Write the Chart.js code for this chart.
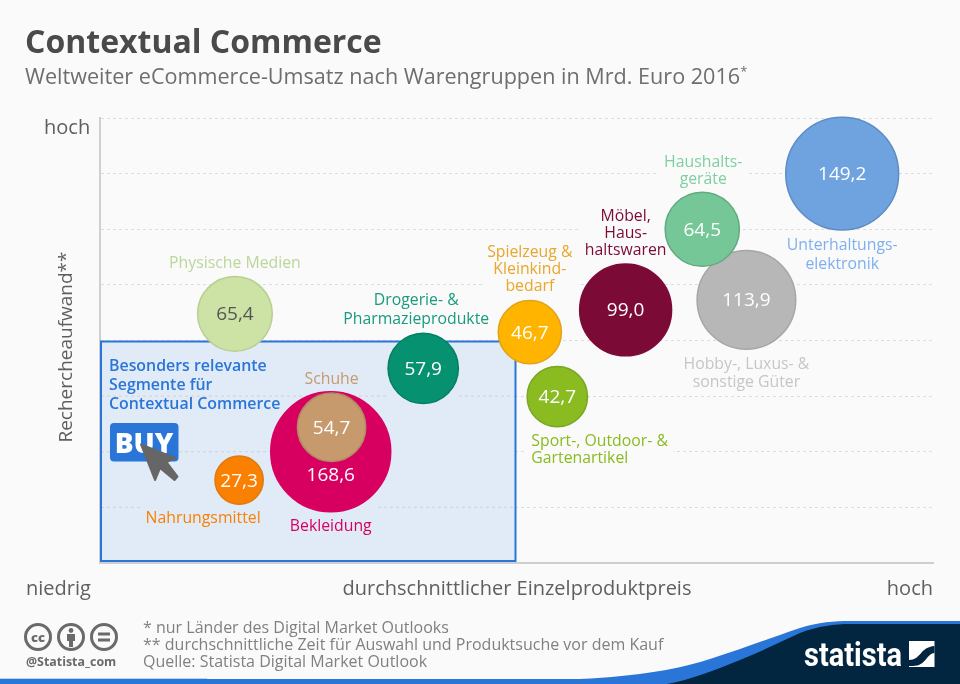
<!DOCTYPE html>
<html>
<head>
<meta charset="utf-8">
<title>Contextual Commerce</title>
<script src="https://cdn.jsdelivr.net/npm/chart.js@4/dist/chart.umd.min.js"></script>
<style>
html,body{margin:0;padding:0;background:#fafafa;}
body{width:960px;height:684px;position:relative;overflow:hidden;font-family:"Open Sans",sans-serif;}
canvas{position:absolute;left:0;top:0;}
.title{position:absolute;left:25px;top:19px;font-size:32px;font-weight:700;color:#4a4a4a;line-height:44px;white-space:nowrap;}
.sub{position:absolute;left:25px;top:61px;font-size:21.6px;color:#6e6e6e;line-height:30px;white-space:nowrap;}
.sub sup{font-size:13px;line-height:0;}
.notes{position:absolute;left:143px;top:619px;font-size:16px;line-height:17px;color:#808080;white-space:nowrap;}
.over{position:absolute;left:0;top:0;}
</style>
</head>
<body>
<canvas id="chart" width="960" height="684"></canvas>
<div class="title">Contextual Commerce</div>
<div class="sub">Weltweiter eCommerce-Umsatz nach Warengruppen in Mrd. Euro 2016<sup>*</sup></div>
<div class="notes">* nur Länder des Digital Market Outlooks<br>** durchschnittliche Zeit für Auswahl und Produktsuche vor dem Kauf<br>Quelle: Statista Digital Market Outlook</div>
<svg class="over" width="960" height="684" font-family="Open Sans">
  <!-- buy icon -->
  <rect x="110" y="423" width="68.5" height="38.5" rx="4" fill="#2a75d8"/>
  <text x="144" y="452.5" text-anchor="middle" font-size="28" font-weight="800" fill="#fff">BUY</text>
  <path d="M141 444.5 L175 458 L166.5 462 L177.5 476.5 L174.5 480 L160 468 L155 480 Z" fill="#666" stroke="#666" stroke-width="2" stroke-linejoin="round"/>
  <!-- footer -->
  <path d="M0 679 L580 679 C640 676 680 669 713 658 C745 648 770 638 800 628 C818 622 835 621 850 621 L960 621 L960 684 L0 684 Z" fill="#2a75d8"/>
  <rect x="0" y="678" width="207" height="1" fill="#bcd4f0"/>
  <path d="M667 684 C690 680 715 670 740 660 C760 652 780 642 800 633 C818 626 835 624 850 624 L960 624 L960 684 Z" fill="#02263f"/>
  <text x="804" y="666" font-family="Roboto" font-weight="700" font-size="34" fill="#fff" textLength="98" lengthAdjust="spacingAndGlyphs">statista</text>
  <rect x="909" y="641" width="25.5" height="26" fill="#fff"/>
  <path d="M909 660 C921 660 920 647 934.5 646 L934.5 653 C926 654 926 666 913 666 L909 666 Z" fill="#02263f"/>
  <!-- cc icons -->
  <g fill="none" stroke="#6a6a6a" stroke-width="3">
    <circle cx="38" cy="637" r="12.5"/>
    <circle cx="71" cy="637" r="12.5"/>
    <circle cx="104" cy="637" r="12.5"/>
  </g>
  <text x="38" y="641.5" text-anchor="middle" font-size="13" font-weight="800" fill="#6a6a6a">cc</text>
  <circle cx="71" cy="630.5" r="2.4" fill="#6a6a6a"/>
  <path d="M67 634 H75 V641 H73 V647 H69 V641 H67 Z" fill="#6a6a6a"/>
  <rect x="98" y="632.5" width="12" height="3" fill="#6a6a6a"/>
  <rect x="98" y="638.5" width="12" height="3" fill="#6a6a6a"/>
  <text x="26" y="666" font-size="12.4" font-weight="700" fill="#6a6a6a">@Statista_com</text>
</svg>
<script>
// values, in Mrd. Euro
let categories = ["Hobby-, Luxus- & sonstige Güter","Unterhaltungselektronik","Haushaltsgeräte","Möbel, Haushaltswaren","Spielzeug & Kleinkindbedarf","Sport-, Outdoor- & Gartenartikel","Drogerie- & Pharmazieprodukte","Physische Medien","Bekleidung","Schuhe","Nahrungsmittel"];
let revenue = [113.9,149.2,64.5,99.0,46.7,42.7,57.9,65.4,168.6,54.7,27.3];
// average price, 0-100 along the axis
let priceX = [77.6,89.1,72.3,63.1,51.6,54.9,38.8,16.2,27.7,27.8,16.7];
// research effort, in grid steps 0-8
let effortY = [4.73,7.0,6.0,4.55,4.15,2.99,3.5,4.48,2.0,2.44,1.49];
let highlightX = 50;
let highlightY = 4;

let fills = ["#b7b7b7","#6fa3e0","#75c797","#7b0a37","#ffb400","#8abb21","#069170","#cde3a6","#d70060","#c69a6d","#f98000"];
let borders = ["#a6a6a6","#5d8cc4","#62ab80","#7b0a37","#e2a318","#7aa723","#057f62","#b9cf92","#d70060","#b08a62","#dd7a10"];
let labelColors = ["#c6c6c6","#7eb0ee","#7fd0a0","#7b0a37","#e8a72a","#8abb21","#1a9a7e","#bcd69a","#d70060","#c69a6d","#f98000"];
let labelLines = [["Hobby-, Luxus- &","sonstige Güter"],["Unterhaltungs-","elektronik"],["Haushalts-","geräte"],["Möbel,","Haus-","haltswaren"],["Spielzeug &","Kleinkind-","bedarf"],["Sport-, Outdoor- &","Gartenartikel"],["Drogerie- &","Pharmazieprodukte"],["Physische Medien"],["Bekleidung"],["Schuhe"],["Nahrungsmittel"]];
// label placement relative to the bubble centre (first line)
let labelDx = [0,0,1,0,0,-26,-7,0,0,0,-36];
let labelDy = [65,72,-67,-93,-80,45,-68,-50,75,-48,38];
let valueDy = [1,1,1,1,1,1,1,1,24,1,1];
let labelStep = [18,19,17,17,17,17,19,18,18,18,18];
let valueFont = "19px 'Open Sans'";
let labelFont = "15.8px 'Open Sans'";
let axisFont = "20px 'Open Sans'";
let sizeFactor = 4.62;

function money(v){
    return v.toFixed(1).replace(".",",");
}

let boxPlugin = {
    id:"box",
    beforeDatasetsDraw(chart){
        let c = chart.ctx;
        let xs = chart.scales.x, ys = chart.scales.y;
        let left = xs.getPixelForValue(0)+1, right = xs.getPixelForValue(highlightX)-1;
        let top = ys.getPixelForValue(highlightY)+1, bottom = ys.getPixelForValue(0)-2;
        c.save();
        // labels sit on a patch that hides the gridlines
        c.font = labelFont;
        let meta = chart.getDatasetMeta(0).data;
        labelLines.forEach((lines,i)=>{
            let w = 0;
            lines.forEach(l=>{ w = Math.max(w,c.measureText(l).width); });
            let lx = i==5 ? meta[i].x+labelDx[i] : meta[i].x+labelDx[i]-w/2;
            let y = meta[i].y+labelDy[i]-10;
            c.fillStyle = "#fafafa";
            c.fillRect(lx-5,y,w+10,labelStep[i]*lines.length+3);
        });
        c.fillStyle = "#e1ebf8";
        c.fillRect(left,top,right-left,bottom-top);
        // faint gridlines through the box, broken under the labels
        c.strokeStyle = "rgba(190,190,190,0.55)";
        c.lineWidth = 1;
        c.setLineDash([3,3]);
        [[1,left,140],[1,378,right],[2,left,272],[3,left,388],[3,459,right]].forEach(g=>{
            let py = ys.getPixelForValue(g[0]);
            c.beginPath(); c.moveTo(g[1],py); c.lineTo(g[2],py); c.stroke();
        });
        c.setLineDash([]);
        c.strokeStyle = "#2a75d8";
        c.lineWidth = 2;
        c.strokeRect(left,top,right-left,bottom-top);
        c.restore();
    }
};

let textPlugin = {
    id:"texts",
    afterDatasetsDraw(chart){
        let c = chart.ctx;
        let meta = chart.getDatasetMeta(0).data;
        c.save();
        c.textBaseline = "middle";
        labelLines.forEach((lines,i)=>{
            c.font = valueFont;
            c.textAlign = "center";
            c.fillStyle = i==7 ? "#555" : "#fff";
            c.fillText(money(revenue[i]),meta[i].x,meta[i].y+valueDy[i]);
            c.font = labelFont;
            c.fillStyle = labelColors[i];
            c.textAlign = i==5 ? "left" : "center";
            lines.forEach((l,n)=>{
                c.fillText(l,meta[i].x+labelDx[i],meta[i].y+labelDy[i]+n*labelStep[i]);
            });
        });
        c.textAlign = "left";
        c.font = "600 15.9px 'Open Sans'";
        c.fillStyle = "#2a75d8";
        ["Besonders relevante","Segmente für","Contextual Commerce"].forEach((l,n)=>{
            c.fillText(l,109,366+n*19);
        });
        c.font = axisFont;
        c.fillStyle = "#5f5f5f";
        c.fillText("hoch",44,128);
        c.fillText("niedrig",26,589);
        c.textAlign = "center";
        c.fillText("durchschnittlicher Einzelproduktpreis",517,589);
        c.textAlign = "right";
        c.fillText("hoch",933,589);
        c.translate(67,347);
        c.rotate(-Math.PI/2);
        c.textAlign = "center";
        c.font = "19px 'Open Sans'";
        c.fillText("Rechercheaufwand**",0,0);
        c.restore();
    }
};

new Chart(document.getElementById("chart"),{
    type:"bubble",
    data:{
        labels:categories,
        datasets:[{
            data:revenue.map((v,i)=>({x:priceX[i],y:effortY[i],r:Math.sqrt(v)*sizeFactor})),
            backgroundColor:fills,
            borderColor:borders,
            borderWidth:1.5,
            clip:false
        }]
    },
    options:{
        responsive:false,
        animation:false,
        events:[],
        layout:{autoPadding:false,padding:{top:118,right:27,left:0,bottom:0}},
        plugins:{legend:{display:false},tooltip:{enabled:false},title:{display:false}},
        scales:{
            x:{
                min:0,max:100,
                afterFit(s){ s.height = 121; },
                grid:{display:false},
                border:{display:true,color:"#cfcfcf",width:2},
                ticks:{display:false}
            },
            y:{
                min:0,max:8,
                afterFit(s){ s.width = 100; },
                grid:{color:"#dcdcdc",lineWidth:1,drawTicks:false},
                border:{display:true,color:"#cfcfcf",width:2,dash:[3,3]},
                ticks:{display:false,stepSize:1}
            }
        }
    },
    plugins:[boxPlugin,textPlugin]
});
</script>
</body>
</html>
